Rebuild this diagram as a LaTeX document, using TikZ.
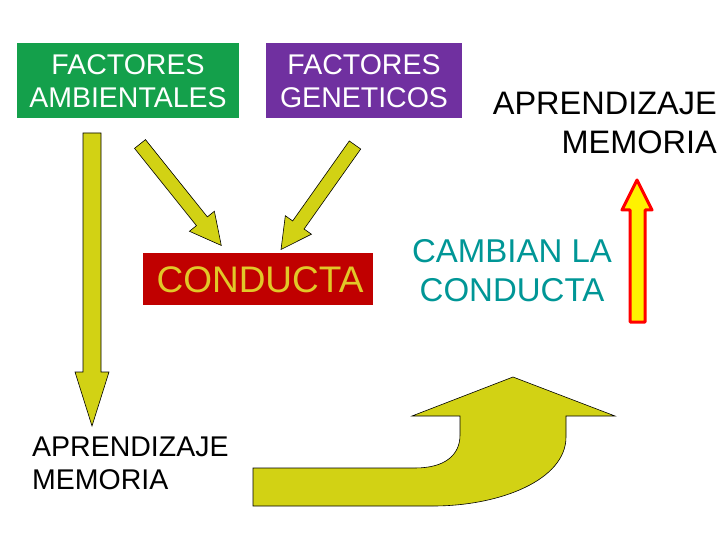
\documentclass[tikz,border=0pt]{standalone}
\usepackage{fontspec}
\setmainfont{Liberation Sans}
\definecolor{ygreen}{RGB}{210,210,20}
\definecolor{boxgreen}{RGB}{20,160,75}
\definecolor{boxpurple}{RGB}{112,48,160}
\definecolor{darkred}{RGB}{192,0,0}
\definecolor{condy}{RGB}{225,200,40}
\definecolor{teal}{RGB}{0,150,150}
\begin{document}
\begin{tikzpicture}[x=1pt,y=-1pt,
  boxs/.style={text=white,font=\fontsize{28.5}{33}\selectfont,align=center,inner sep=0},
  fat/.style={fill=ygreen,draw=black,line width=0.6pt}]
\useasboundingbox (0,0) rectangle (720,540);
% boxes
\fill[boxgreen] (17,43) rectangle (239,118);
\node[boxs] (fa) at (128,81) {FACTORES\\AMBIENTALES};
\fill[boxpurple] (266,43) rectangle (462,118);
\node[boxs] (fg) at (364,81) {FACTORES\\GENETICOS};
\fill[darkred] (143,253) rectangle (373,305);
\node[text=condy,font=\fontsize{37}{40}\selectfont,inner sep=0] (co) at (260,280) {CONDUCTA};
\node[align=right,font=\fontsize{32.5}{39}\selectfont,inner sep=0,anchor=east] (am) at (717,123) {APRENDIZAJE\\MEMORIA};
\node[align=center,text=teal,font=\fontsize{33}{39}\selectfont,inner sep=0] (cc) at (512,271) {CAMBIAN LA\\CONDUCTA};
\node[align=left,font=\fontsize{28.5}{33}\selectfont,inner sep=0,anchor=west] (am2) at (32,463) {APRENDIZAJE\\MEMORIA};
% left down arrow
\draw[fat] (83,133) -- (101,133) -- (101,372) -- (109,372) -- (92,426) -- (75,372) -- (83,372) -- cycle;
% diagonal arrows
\begin{scope}[shift={(140,144)},rotate=-51.3]
\draw[fat] (0,-7) -- (99,-7) -- (99,-16) -- (130,0) -- (99,16) -- (99,7) -- (0,7) -- cycle;
\end{scope}
\begin{scope}[shift={(355,145)},rotate=-125.3]
\draw[fat] (0,-7) -- (98,-7) -- (98,-16) -- (128,0) -- (98,16) -- (98,7) -- (0,7) -- cycle;
\end{scope}
% red arrow
\draw[fill=yellow,draw=red,line width=3pt,line join=round] (630,322) -- (630,210) -- (622,210) -- (637,180) -- (652,210) -- (645,210) -- (645,322) -- cycle;
% curved arrow
\draw[fat] (253,468) -- (415,468) .. controls (445,468) and (460,455) .. (460,435) -- (460,416) -- (412,416) -- (513,377) -- (615,416) -- (566,416) -- (566,437) .. controls (566,480) and (500,506) .. (433,506) -- (253,506) -- cycle;
\end{tikzpicture}
\end{document}
